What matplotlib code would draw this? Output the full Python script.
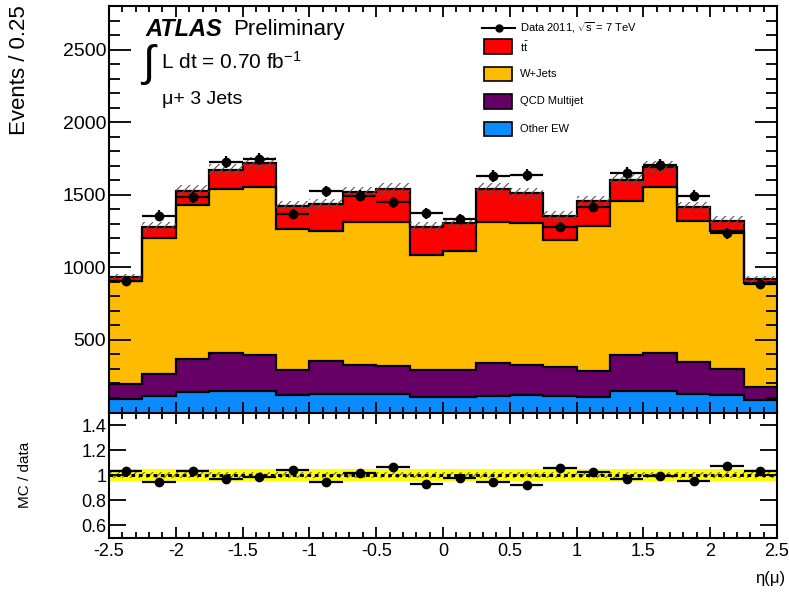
import numpy as np
import matplotlib
matplotlib.use("Agg")
import matplotlib.pyplot as plt
from matplotlib.ticker import MultipleLocator

plt.rcParams['font.family'] = ['Liberation Sans', 'DejaVu Sans']
plt.rcParams['mathtext.fontset'] = 'custom'
plt.rcParams['mathtext.rm'] = 'Liberation Sans'
plt.rcParams['mathtext.it'] = 'Liberation Sans:italic'
plt.rcParams['hatch.linewidth'] = 0.8

# eta(mu) binning
edges = np.linspace(-2.5, 2.5, 21)
centers = 0.5 * (edges[:-1] + edges[1:])

# Background components (events / 0.25)
other_ew = [91, 114, 144, 150, 148, 121, 130, 128, 125, 110,
            108, 115, 118, 112, 108, 145, 150, 130, 120, 84]
qcd = [108, 149, 223, 262, 249, 174, 225, 200, 195, 181,
       183, 229, 208, 202, 178, 249, 258, 218, 182, 92]
wjets = [706, 936, 1062, 1127, 1153, 968, 897, 986, 990, 795,
         823, 970, 976, 876, 1000, 1060, 1142, 973, 945, 714]
ttbar = [25, 80, 99, 131, 166, 161, 184, 202, 229, 193,
         188, 225, 207, 165, 168, 147, 143, 96, 74, 28]
data = [903, 1355, 1481, 1723, 1746, 1367, 1523, 1493, 1447, 1371,
        1332, 1631, 1638, 1279, 1417, 1647, 1707, 1493, 1233, 888]

components = [
    (other_ew, '#0a8cff', 'Other EW'),
    (qcd, '#660066', 'QCD Multijet'),
    (wjets, '#ffbb00', 'W+Jets'),
    (ttbar, '#ff0000', r'$\mathrm{t\bar{t}}$'),
]

W, H = 789, 593
fig = plt.figure(figsize=(W / 100, H / 100), dpi=100)

def px_axes(x0, y0, x1, y1):
    return fig.add_axes([x0 / W, 1 - y1 / H, (x1 - x0) / W, (y1 - y0) / H])

ax = px_axes(109, 6, 777, 412.5)
rax = px_axes(109, 412.5, 777, 537.7)

# stacked histogram
base = np.zeros(len(centers))
tops = []
for vals, col, lab in components:
    top = base + np.array(vals, float)
    ax.stairs(top, edges, baseline=base, fill=True, color=col, lw=0)
    tops.append(top)
    base = top
for top in tops:
    ax.stairs(top, edges, baseline=None, color='black', lw=1.6)
total = tops[-1]

# MC uncertainty (hatched)
unc = 0.025 * total
ax.stairs(total + unc, edges, baseline=total - unc, fill=True,
          facecolor='none', edgecolor='#555555', hatch='////', lw=0)

data = np.array(data, float)
ax.errorbar(centers, data, xerr=0.125, yerr=np.sqrt(data), fmt='o',
            color='black', ms=6, elinewidth=1.6, capsize=0, zorder=5)

ax.set_xlim(-2.5, 2.5)
ax.set_ylim(0, 2800)
ax.yaxis.set_major_locator(MultipleLocator(500))
ax.yaxis.set_minor_locator(MultipleLocator(100))
ax.set_yticks([500, 1000, 1500, 2000, 2500])
ax.xaxis.set_major_locator(MultipleLocator(0.5))
ax.xaxis.set_minor_locator(MultipleLocator(0.1))
ax.tick_params(axis='both', which='both', direction='in', top=True, right=True,
               labelbottom=False, width=1.3)
ax.tick_params(axis='y', which='major', length=16, labelsize=14, pad=2)
ax.tick_params(axis='y', which='minor', length=8)
ax.tick_params(axis='x', which='major', length=8)
ax.tick_params(axis='x', which='minor', length=4)
for s in ax.spines.values():
    s.set_linewidth(1.5)

fig.text(20 / W, 1 - 5 / H, 'Events / 0.25', rotation=90, ha='center',
         va='top', fontsize=16)

# ratio panel
ratio = total / data
rerr = np.sqrt(data) / data * ratio
rax.axhspan(0.955, 1.045, color='#ffff00', lw=0)
rax.stairs(np.full(20, 1.025), edges, baseline=np.full(20, 0.975), fill=True,
           facecolor='none', edgecolor='#666666', hatch='////', lw=0)
rax.axhline(1.0, color='black', ls=(0, (1.2, 1.2)), lw=2.2)
rax.errorbar(centers, ratio, xerr=0.125, yerr=rerr, fmt='o', color='black',
             ms=6, elinewidth=1.6, capsize=0, zorder=5)
rax.set_xlim(-2.5, 2.5)
rax.set_ylim(0.5, 1.5)
rax.set_yticks([0.6, 0.8, 1.0, 1.2, 1.4])
rax.set_yticklabels(['0.6', '0.8', '1', '1.2', '1.4'])
rax.xaxis.set_major_locator(MultipleLocator(0.5))
rax.xaxis.set_minor_locator(MultipleLocator(0.1))
rax.set_xticks(np.arange(-2.5, 2.51, 0.5))
rax.set_xticklabels(['-2.5', '-2', '-1.5', '-1', '-0.5', '0', '0.5', '1',
                     '1.5', '2', '2.5'])
rax.tick_params(axis='both', which='both', direction='in', top=True, right=True,
                width=1.3)
rax.tick_params(axis='y', which='major', length=12, labelsize=13, pad=2)
rax.tick_params(axis='x', which='major', length=8, labelsize=13, pad=4)
rax.tick_params(axis='x', which='minor', length=4)
for s in rax.spines.values():
    s.set_linewidth(1.5)

fig.text(25 / W, 1 - 475 / H, 'MC / data', rotation=90, ha='center',
         va='center', fontsize=11)
fig.text(770 / W, 1 - 578 / H, 'η(μ)', ha='center', va='center',
         fontsize=12)

# annotations
fig.text(145 / W, 1 - 30 / H, 'ATLAS', fontsize=17, fontweight='bold',
         fontstyle='italic', ha='left', va='center')
fig.text(233 / W, 1 - 30 / H, 'Preliminary', fontsize=16, ha='left',
         va='center')
fig.text(140 / W, 1 - 65 / H, r'$\int$', fontsize=32, ha='left', va='center')
fig.text(161 / W, 1 - 62 / H, r'L dt = 0.70 fb$^{\mathregular{-1}}$',
         fontsize=15, ha='left', va='center')
fig.text(162 / W, 1 - 100 / H, 'μ+ 3 Jets', fontsize=14, ha='left',
         va='center')

# legend
fig.add_artist(plt.Line2D([482 / W, 515 / W], [1 - 28 / H, 1 - 28 / H],
                          color='black', lw=1.5))
fig.add_artist(plt.Line2D([498.5 / W], [1 - 28 / H], marker='o', ms=5,
                          color='black'))
fig.text(520 / W, 1 - 28 / H, r'Data 2011, $\sqrt{\mathregular{s}}$ = 7 TeV',
         fontsize=8, ha='left', va='center')
leg_rows = [(ttbar, '#ff0000', r'$\mathrm{t\bar{t}}$'),
            (wjets, '#ffbb00', 'W+Jets'),
            (qcd, '#660066', 'QCD Multijet'),
            (other_ew, '#0a8cff', 'Other EW')]
for i, (_, col, lab) in enumerate(leg_rows):
    yc = 46.5 + 27.5 * i
    fig.add_artist(plt.Rectangle((484 / W, 1 - (yc + 7) / H), 28 / W, 14 / H,
                                 facecolor=col, edgecolor='black', lw=1.2))
    fig.text(520 / W, 1 - yc / H, lab, fontsize=8, ha='left', va='center')

fig.savefig('out.png', dpi=100)
